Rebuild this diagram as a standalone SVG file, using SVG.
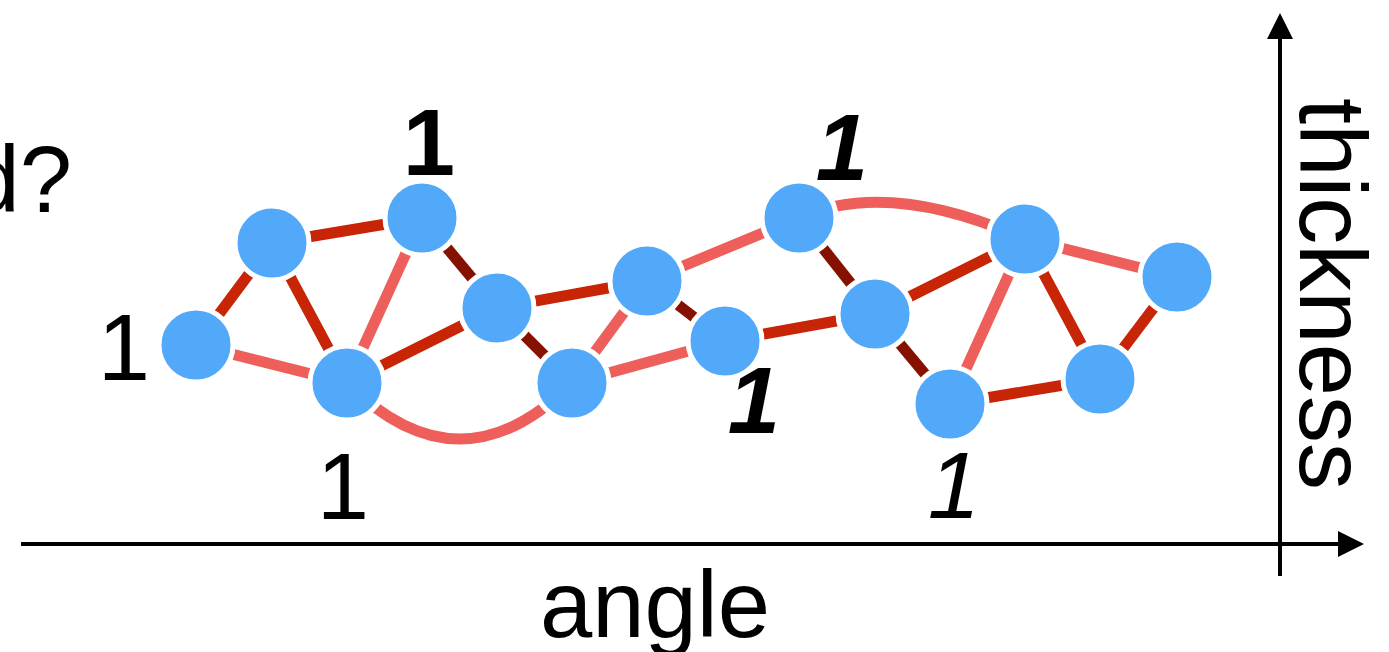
<svg xmlns="http://www.w3.org/2000/svg" width="1389" height="652" viewBox="0 0 1389 652">
<defs>
<style>
.t{font-family:"Liberation Sans",Arial,sans-serif;font-size:94px;fill:#000}
.b{font-weight:bold}
.i{font-style:italic}
.e{fill:none;stroke-width:11;stroke-linecap:butt}
.d{stroke:#C82506}
.l{stroke:#EE5E5A}
.m{stroke:#871100}
.n{fill:#52A8F9;stroke:#fff;stroke-width:5}
.ax{stroke:#000;stroke-width:4;fill:none}
</style>
<marker id="ah" viewBox="0 0 26 26" refX="0" refY="13" markerWidth="26" markerHeight="26" markerUnits="userSpaceOnUse" orient="auto">
<path d="M0,0 L26,13 L0,26 Z" fill="#000"/>
</marker>
</defs>
<rect width="1389" height="652" fill="#fff"/>
<g id="axes">
<line class="ax" x1="21" y1="544" x2="1338" y2="544" marker-end="url(#ah)"/>
<line class="ax" x1="1280" y1="576" x2="1280" y2="39" marker-end="url(#ah)"/>
</g>
<g id="connectors">
<line class="e d" x1="196" y1="345" x2="272" y2="243"/>
<line class="e l" x1="196" y1="345" x2="347" y2="383"/>
<line class="e d" x1="272" y1="243" x2="422" y2="218"/>
<line class="e d" x1="272" y1="243" x2="347" y2="383"/>
<line class="e l" x1="422" y1="218" x2="347" y2="383"/>
<line class="e m" x1="422" y1="218" x2="497" y2="308"/>
<line class="e d" x1="347" y1="383" x2="497" y2="308"/>
<path class="e l" d="M347,383 Q460,495 572,383"/>
<line class="e m" x1="497" y1="308" x2="572" y2="383"/>
<line class="e d" x1="497" y1="308" x2="647" y2="281"/>
<line class="e l" x1="572" y1="383" x2="647" y2="281"/>
<line class="e l" x1="572" y1="383" x2="725" y2="341"/>
<line class="e m" x1="647" y1="281" x2="725" y2="341"/>
<line class="e l" x1="647" y1="281" x2="799" y2="218"/>
<line class="e d" x1="725" y1="341" x2="875" y2="314"/>
<line class="e m" x1="799" y1="218" x2="875" y2="314"/>
<path class="e l" d="M799,218 Q888,178 1025,239"/>
<line class="e d" x1="875" y1="314" x2="1025" y2="239"/>
<line class="e m" x1="875" y1="314" x2="950" y2="404"/>
<line class="e l" x1="950" y1="404" x2="1025" y2="239"/>
<line class="e d" x1="950" y1="404" x2="1100" y2="379"/>
<line class="e d" x1="1025" y1="239" x2="1100" y2="379"/>
<line class="e l" x1="1025" y1="239" x2="1177" y2="277"/>
<line class="e d" x1="1100" y1="379" x2="1177" y2="277"/>
</g>
<g id="node-a"><circle class="n" cx="196" cy="345" r="37"/></g>
<g id="node-b"><circle class="n" cx="272" cy="243" r="37"/></g>
<g id="node-c"><circle class="n" cx="422" cy="218" r="37"/></g>
<g id="node-d"><circle class="n" cx="347" cy="383" r="37"/></g>
<g id="node-e"><circle class="n" cx="497" cy="308" r="37"/></g>
<g id="node-f"><circle class="n" cx="572" cy="383" r="37"/></g>
<g id="node-g"><circle class="n" cx="647" cy="281" r="37"/></g>
<g id="node-h"><circle class="n" cx="725" cy="341" r="37"/></g>
<g id="node-i"><circle class="n" cx="799" cy="218" r="37"/></g>
<g id="node-j"><circle class="n" cx="875" cy="314" r="37"/></g>
<g id="node-k"><circle class="n" cx="950" cy="404" r="37"/></g>
<g id="node-l"><circle class="n" cx="1025" cy="239" r="37"/></g>
<g id="node-m"><circle class="n" cx="1100" cy="379" r="37"/></g>
<g id="node-n"><circle class="n" cx="1177" cy="277" r="37"/></g>
<g id="labels">
<text class="t" x="72" y="212" text-anchor="end">d?</text>
<text class="t" x="124" y="380" text-anchor="middle">1</text>
<text class="t b" x="429" y="175" text-anchor="middle">1</text>
<text class="t" x="343" y="519" text-anchor="middle">1</text>
<text class="t b i" x="842" y="180" text-anchor="middle">1</text>
<text class="t b i" x="754" y="433" text-anchor="middle">1</text>
<text class="t i" x="954" y="518" text-anchor="middle">1</text>
<text class="t" x="655" y="637" text-anchor="middle" font-size="96">angle</text>
<text class="t" transform="translate(1300,294) rotate(90)" x="0" y="0" text-anchor="middle" font-size="97">thickness</text>
</g>
</svg>
